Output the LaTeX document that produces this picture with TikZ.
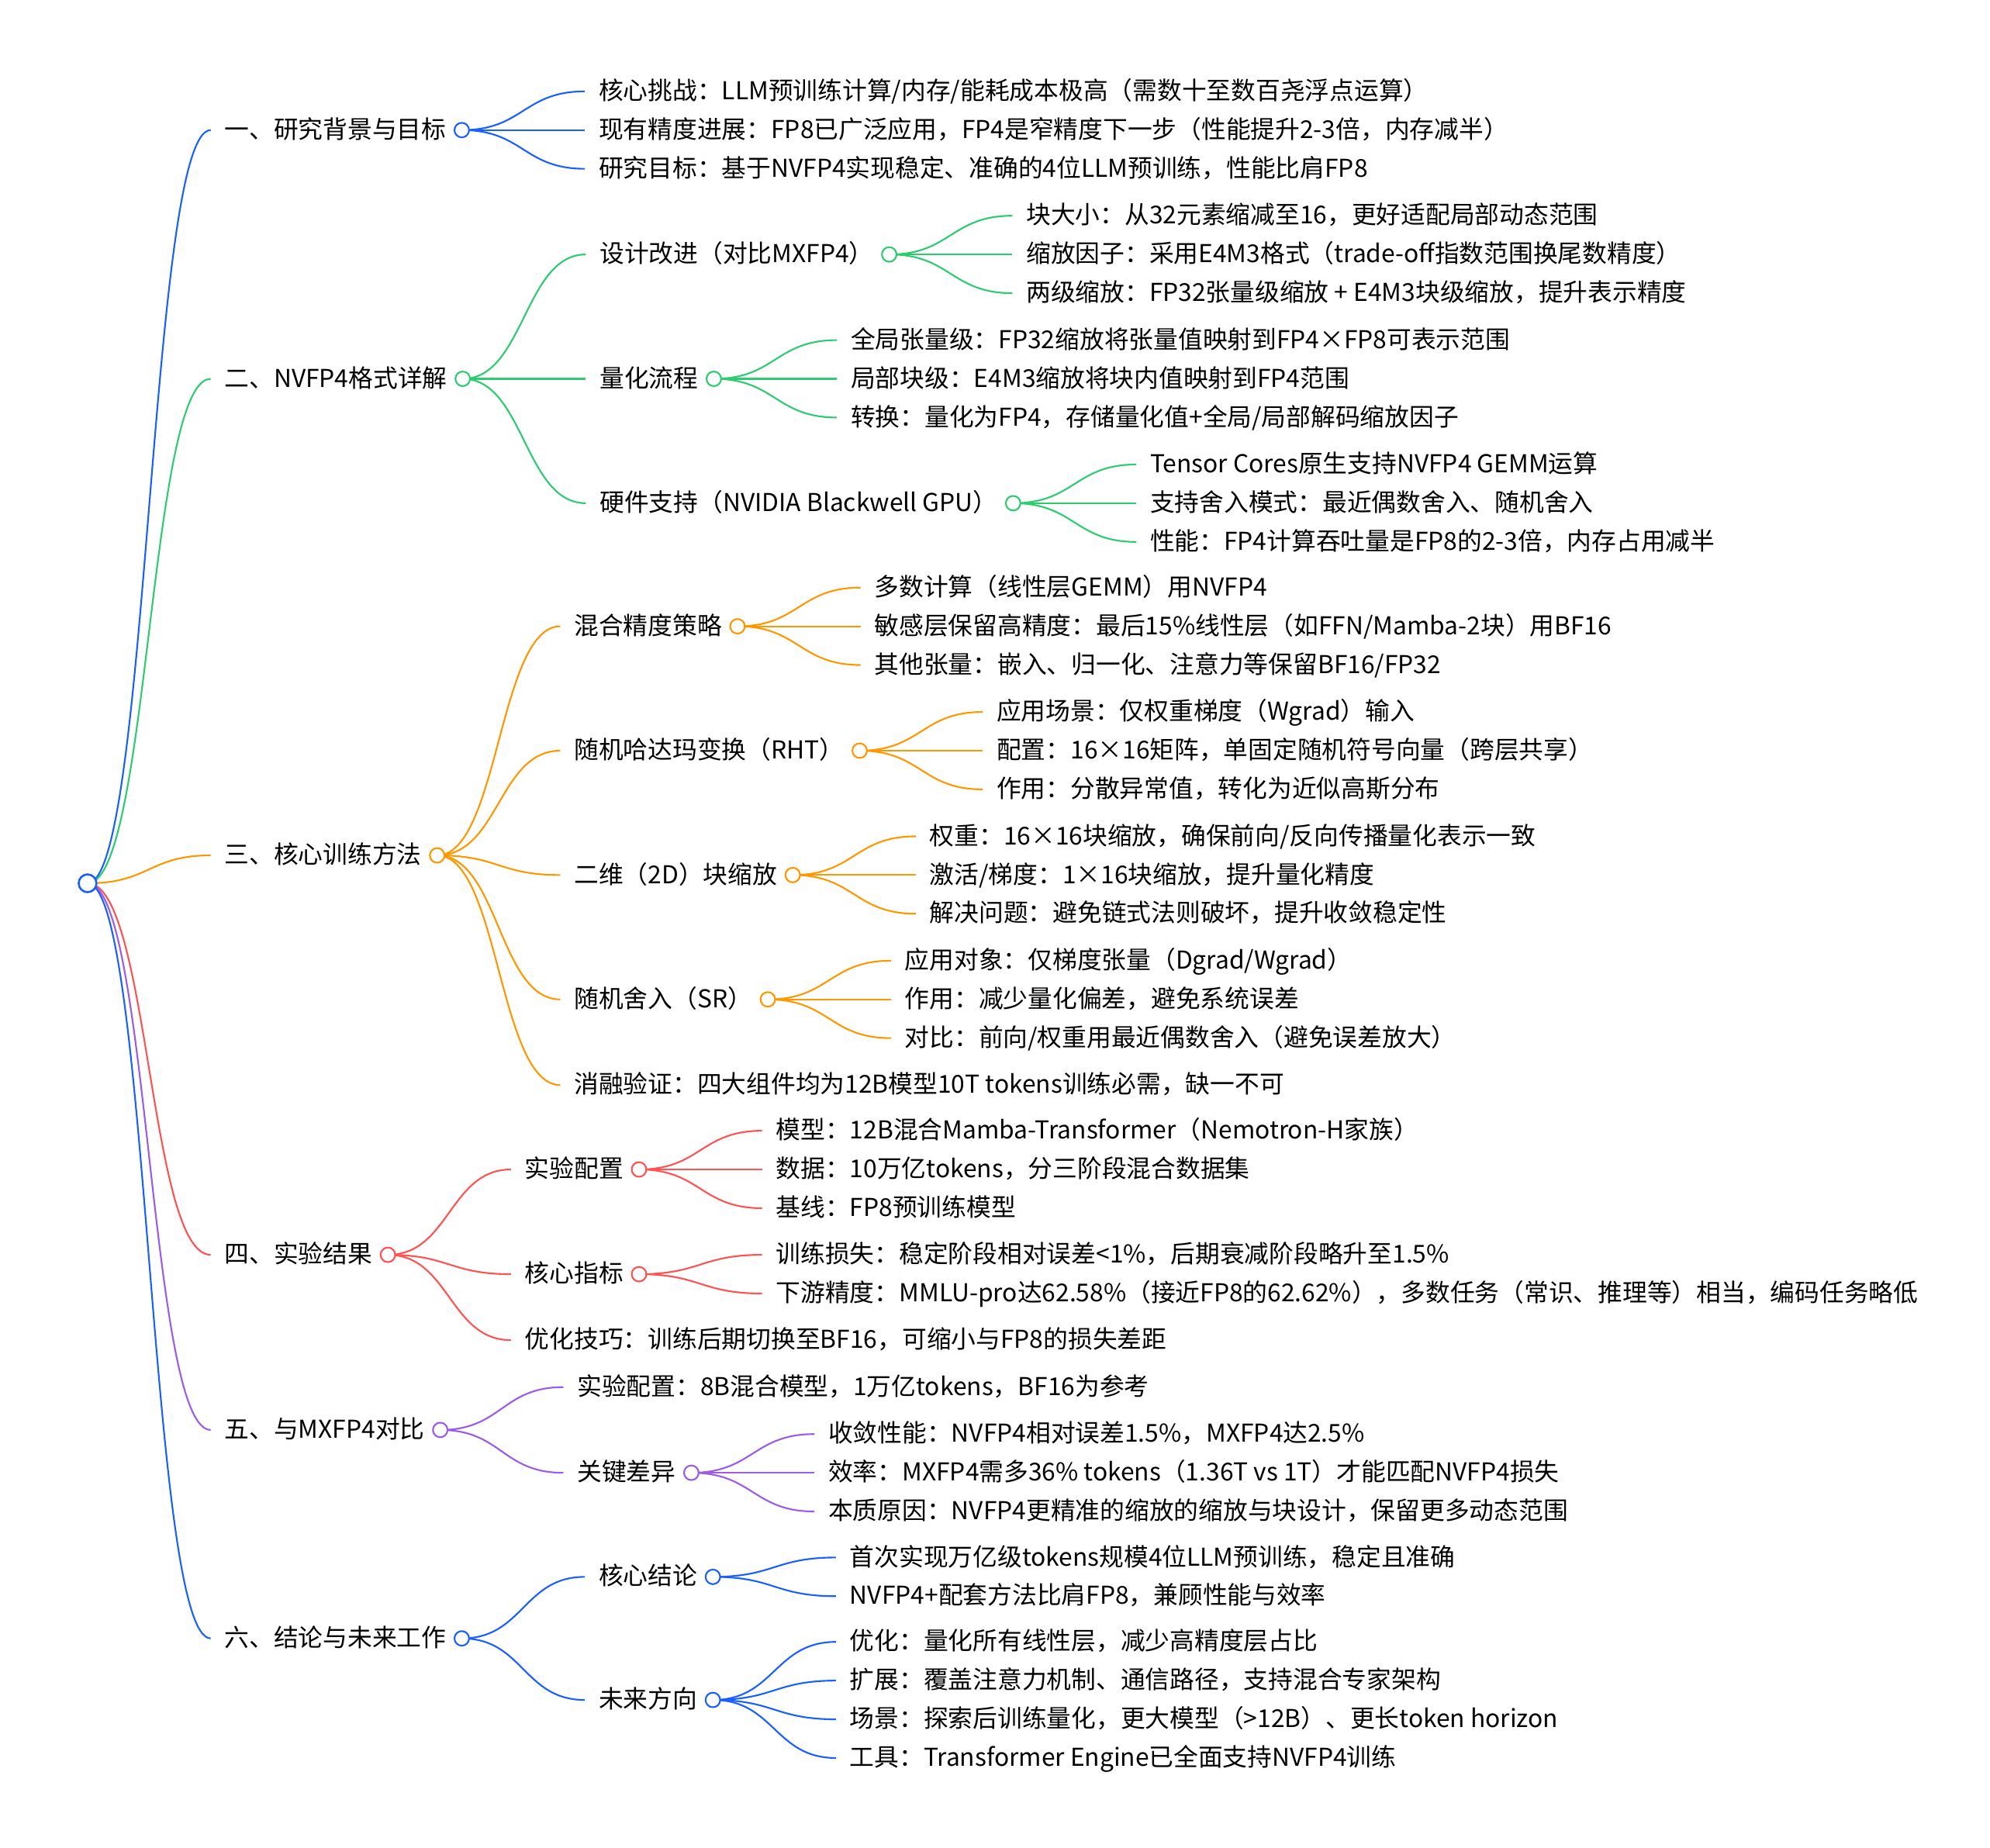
\documentclass[tikz,border=0pt]{standalone}
\usepackage{fontspec}
\newfontfamily\cjk{Noto Sans CJK SC}
\usetikzlibrary{positioning, calc, backgrounds}

\definecolor{mmblue}{HTML}{1A5FFF}
\definecolor{mmgreen}{HTML}{2ECC71}
\definecolor{mmorange}{HTML}{FF9800}
\definecolor{mmred}{HTML}{FF5252}
\definecolor{mmpurple}{HTML}{9B5DE5}

\begin{document}
\begin{tikzpicture}[
        x=1pt, y=-1pt,
        font=\cjk\fontsize{19.4}{24}\selectfont,
        node distance=97pt,
        topic/.style={
            inner xsep=11pt, inner ysep=0pt, outer sep=0pt,
            text height=1.3em, text depth=0em
        },
        dot/.style={
            circle, draw, fill=white,
            line width=1.3pt,
            minimum size=11.5pt,
            inner sep=0pt, outer sep=0pt
        },
        rootdot/.style={dot, line width=1.6pt, minimum size=14pt},
        link/.style={
            line width=1.3pt,
            to path={let \p1=(\tikztostart), \p2=(\tikztotarget) in
                .. controls ({(\x1+\x2)/2},\y1) and ({(\x1+\x2)/2},\y2) .. (\tikztotarget) \tikztonodes}
        }
    ]

    \useasboundingbox (0,0) rectangle (1568,1456);

    \node[rootdot, draw=mmblue] (root) at (69,696) {};

    \node[topic, right=of root.center, yshift=593.5pt] (bg) {一、研究背景与目标};
    \node[dot, draw=mmblue, right=-4.5pt of bg] (bgo) {};
    \node[topic, right=of bgo.center, yshift=30.5pt] (bg1) {核心挑战：LLM预训练计算/内存/能耗成本极高（需数十至数百尧浮点运算）};
    \node[topic, right=of bgo.center] (bg2) {现有精度进展：FP8已广泛应用，FP4是窄精度下一步（性能提升2-3倍，内存减半）};
    \node[topic, right=of bgo.center, yshift=-30.5pt] (bg3) {研究目标：基于NVFP4实现稳定、准确的4位LLM预训练，性能比肩FP8};

    \node[topic, right=of root.center, yshift=397.5pt] (fmt) {二、NVFP4格式详解};
    \node[dot, draw=mmgreen, right=-4.5pt of fmt] (fmto) {};
    \node[topic, right=of fmto.center, yshift=98pt] (fmtA) {设计改进（对比MXFP4）};
    \node[dot, draw=mmgreen, right=-4.5pt of fmtA] (fmtAo) {};
    \node[topic, right=of fmtAo.center, yshift=30.5pt] (fmtA1) {块大小：从32元素缩减至16，更好适配局部动态范围};
    \node[topic, right=of fmtAo.center] (fmtA2) {缩放因子：采用E4M3格式（trade-off指数范围换尾数精度）};
    \node[topic, right=of fmtAo.center, yshift=-30.5pt] (fmtA3) {两级缩放：FP32张量级缩放 + E4M3块级缩放，提升表示精度};
    \node[topic, right=of fmto.center] (fmtB) {量化流程};
    \node[dot, draw=mmgreen, right=-4.5pt of fmtB] (fmtBo) {};
    \node[topic, right=of fmtBo.center, yshift=30.5pt] (fmtB1) {全局张量级：FP32缩放将张量值映射到FP4×FP8可表示范围};
    \node[topic, right=of fmtBo.center] (fmtB2) {局部块级：E4M3缩放将块内值映射到FP4范围};
    \node[topic, right=of fmtBo.center, yshift=-30.5pt] (fmtB3) {转换：量化为FP4，存储量化值+全局/局部解码缩放因子};
    \node[topic, right=of fmto.center, yshift=-98pt] (fmtC) {硬件支持（NVIDIA Blackwell GPU）};
    \node[dot, draw=mmgreen, right=-4.5pt of fmtC] (fmtCo) {};
    \node[topic, right=of fmtCo.center, yshift=30.5pt] (fmtC1) {Tensor Cores原生支持NVFP4 GEMM运算};
    \node[topic, right=of fmtCo.center] (fmtC2) {支持舍入模式：最近偶数舍入、随机舍入};
    \node[topic, right=of fmtCo.center, yshift=-30.5pt] (fmtC3) {性能：FP4计算吞吐量是FP8的2-3倍，内存占用减半};

    \node[topic, right=of root.center, yshift=22pt] (mth) {三、核心训练方法};
    \node[dot, draw=mmorange, right=-4.5pt of mth] (mtho) {};
    \node[topic, right=of mtho.center, yshift=180.5pt] (mthA) {混合精度策略};
    \node[dot, draw=mmorange, right=-4.5pt of mthA] (mthAo) {};
    \node[topic, right=of mthAo.center, yshift=30.5pt] (mthA1) {多数计算（线性层GEMM）用NVFP4};
    \node[topic, right=of mthAo.center] (mthA2) {敏感层保留高精度：最后15\%线性层（如FFN/Mamba-2块）用BF16};
    \node[topic, right=of mthAo.center, yshift=-30.5pt] (mthA3) {其他张量：嵌入、归一化、注意力等保留BF16/FP32};
    \node[topic, right=of mtho.center, yshift=82.5pt] (mthB) {随机哈达玛变换（RHT）};
    \node[dot, draw=mmorange, right=-4.5pt of mthB] (mthBo) {};
    \node[topic, right=of mthBo.center, yshift=30.5pt] (mthB1) {应用场景：仅权重梯度（Wgrad）输入};
    \node[topic, right=of mthBo.center] (mthB2) {配置：16×16矩阵，单固定随机符号向量（跨层共享）};
    \node[topic, right=of mthBo.center, yshift=-30.5pt] (mthB3) {作用：分散异常值，转化为近似高斯分布};
    \node[topic, right=of mtho.center, yshift=-15.5pt] (mthC) {二维（2D）块缩放};
    \node[dot, draw=mmorange, right=-4.5pt of mthC] (mthCo) {};
    \node[topic, right=of mthCo.center, yshift=30.5pt] (mthC1) {权重：16×16块缩放，确保前向/反向传播量化表示一致};
    \node[topic, right=of mthCo.center] (mthC2) {激活/梯度：1×16块缩放，提升量化精度};
    \node[topic, right=of mthCo.center, yshift=-30.5pt] (mthC3) {解决问题：避免链式法则破坏，提升收敛稳定性};
    \node[topic, right=of mtho.center, yshift=-113.5pt] (mthD) {随机舍入（SR）};
    \node[dot, draw=mmorange, right=-4.5pt of mthD] (mthDo) {};
    \node[topic, right=of mthDo.center, yshift=30.5pt] (mthD1) {应用对象：仅梯度张量（Dgrad/Wgrad）};
    \node[topic, right=of mthDo.center] (mthD2) {作用：减少量化偏差，避免系统误差};
    \node[topic, right=of mthDo.center, yshift=-30.5pt] (mthD3) {对比：前向/权重用最近偶数舍入（避免误差放大）};
    \node[topic, right=of mtho.center, yshift=-181pt] (mthE) {消融验证：四大组件均为12B模型10T tokens训练必需，缺一不可};

    \node[topic, right=of root.center, yshift=-292.75pt] (res) {四、实验结果};
    \node[dot, draw=mmred, right=-4.5pt of res] (reso) {};
    \node[topic, right=of reso.center, yshift=67.25pt] (resA) {实验配置};
    \node[dot, draw=mmred, right=-4.5pt of resA] (resAo) {};
    \node[topic, right=of resAo.center, yshift=30.5pt] (resA1) {模型：12B混合Mamba-Transformer（Nemotron-H家族）};
    \node[topic, right=of resAo.center] (resA2) {数据：10万亿tokens，分三阶段混合数据集};
    \node[topic, right=of resAo.center, yshift=-30.5pt] (resA3) {基线：FP8预训练模型};
    \node[topic, right=of reso.center, yshift=-15.25pt] (resB) {核心指标};
    \node[dot, draw=mmred, right=-4.5pt of resB] (resBo) {};
    \node[topic, right=of resBo.center, yshift=15.25pt] (resB1) {训练损失：稳定阶段相对误差<1\%，后期衰减阶段略升至1.5\%};
    \node[topic, right=of resBo.center, yshift=-15.25pt] (resB2) {下游精度：MMLU-pro达62.58\%（接近FP8的62.62\%），多数任务（常识、推理等）相当，编码任务略低};
    \node[topic, right=of reso.center, yshift=-67.25pt] (resC) {优化技巧：训练后期切换至BF16，可缩小与FP8的损失差距};

    \node[topic, right=of root.center, yshift=-430.75pt] (cmp) {五、与MXFP4对比};
    \node[dot, draw=mmpurple, right=-4.5pt of cmp] (cmpo) {};
    \node[topic, right=of cmpo.center, yshift=33.75pt] (cmpA) {实验配置：8B混合模型，1万亿tokens，BF16为参考};
    \node[topic, right=of cmpo.center, yshift=-33.75pt] (cmpB) {关键差异};
    \node[dot, draw=mmpurple, right=-4.5pt of cmpB] (cmpBo) {};
    \node[topic, right=of cmpBo.center, yshift=30.5pt] (cmpB1) {收敛性能：NVFP4相对误差1.5\%，MXFP4达2.5\%};
    \node[topic, right=of cmpBo.center] (cmpB2) {效率：MXFP4需多36\% tokens（1.36T vs 1T）才能匹配NVFP4损失};
    \node[topic, right=of cmpBo.center, yshift=-30.5pt] (cmpB3) {本质原因：NVFP4更精准的缩放的缩放与块设计，保留更多动态范围};

    \node[topic, right=of root.center, yshift=-595pt] (con) {六、结论与未来工作};
    \node[dot, draw=mmblue, right=-4.5pt of con] (cono) {};
    \node[topic, right=of cono.center, yshift=48.5pt] (conA) {核心结论};
    \node[dot, draw=mmblue, right=-4.5pt of conA] (conAo) {};
    \node[topic, right=of conAo.center, yshift=15.25pt] (conA1) {首次实现万亿级tokens规模4位LLM预训练，稳定且准确};
    \node[topic, right=of conAo.center, yshift=-15.25pt] (conA2) {NVFP4+配套方法比肩FP8，兼顾性能与效率};
    \node[topic, right=of cono.center, yshift=-48.5pt] (conB) {未来方向};
    \node[dot, draw=mmblue, right=-4.5pt of conB] (conBo) {};
    \node[topic, right=of conBo.center, yshift=45.75pt] (conB1) {优化：量化所有线性层，减少高精度层占比};
    \node[topic, right=of conBo.center, yshift=15.25pt] (conB2) {扩展：覆盖注意力机制、通信路径，支持混合专家架构};
    \node[topic, right=of conBo.center, yshift=-15.25pt] (conB3) {场景：探索后训练量化，更大模型（>12B）、更长token horizon};
    \node[topic, right=of conBo.center, yshift=-45.75pt] (conB4) {工具：Transformer Engine已全面支持NVFP4训练};

    \begin{scope}[on background layer]
        \fill[white] (0,0) rectangle (1568,1456);

        \draw[link, mmblue] (root.center) to (bg.west);
        \draw[link, mmgreen] (root.center) to (fmt.west);
        \draw[link, mmorange] (root.center) to (mth.west);
        \draw[link, mmred] (root.center) to (res.west);
        \draw[link, mmpurple] (root.center) to (cmp.west);
        \draw[link, mmblue] (root.center) to (con.west);

        \foreach \c in {bg1, bg2, bg3}
            \draw[link, mmblue] (bgo.center) to (\c.west);

        \foreach \c in {fmtA, fmtB, fmtC}
            \draw[link, mmgreen] (fmto.center) to (\c.west);
        \foreach \c in {fmtA1, fmtA2, fmtA3}
            \draw[link, mmgreen] (fmtAo.center) to (\c.west);
        \foreach \c in {fmtB1, fmtB2, fmtB3}
            \draw[link, mmgreen] (fmtBo.center) to (\c.west);
        \foreach \c in {fmtC1, fmtC2, fmtC3}
            \draw[link, mmgreen] (fmtCo.center) to (\c.west);

        \foreach \c in {mthA, mthB, mthC, mthD, mthE}
            \draw[link, mmorange] (mtho.center) to (\c.west);
        \foreach \c in {mthA1, mthA2, mthA3}
            \draw[link, mmorange] (mthAo.center) to (\c.west);
        \foreach \c in {mthB1, mthB2, mthB3}
            \draw[link, mmorange] (mthBo.center) to (\c.west);
        \foreach \c in {mthC1, mthC2, mthC3}
            \draw[link, mmorange] (mthCo.center) to (\c.west);
        \foreach \c in {mthD1, mthD2, mthD3}
            \draw[link, mmorange] (mthDo.center) to (\c.west);

        \foreach \c in {resA, resB, resC}
            \draw[link, mmred] (reso.center) to (\c.west);
        \foreach \c in {resA1, resA2, resA3}
            \draw[link, mmred] (resAo.center) to (\c.west);
        \foreach \c in {resB1, resB2}
            \draw[link, mmred] (resBo.center) to (\c.west);

        \foreach \c in {cmpA, cmpB}
            \draw[link, mmpurple] (cmpo.center) to (\c.west);
        \foreach \c in {cmpB1, cmpB2, cmpB3}
            \draw[link, mmpurple] (cmpBo.center) to (\c.west);

        \foreach \c in {conA, conB}
            \draw[link, mmblue] (cono.center) to (\c.west);
        \foreach \c in {conA1, conA2}
            \draw[link, mmblue] (conAo.center) to (\c.west);
        \foreach \c in {conB1, conB2, conB3, conB4}
            \draw[link, mmblue] (conBo.center) to (\c.west);
    \end{scope}

\end{tikzpicture}
\end{document}
